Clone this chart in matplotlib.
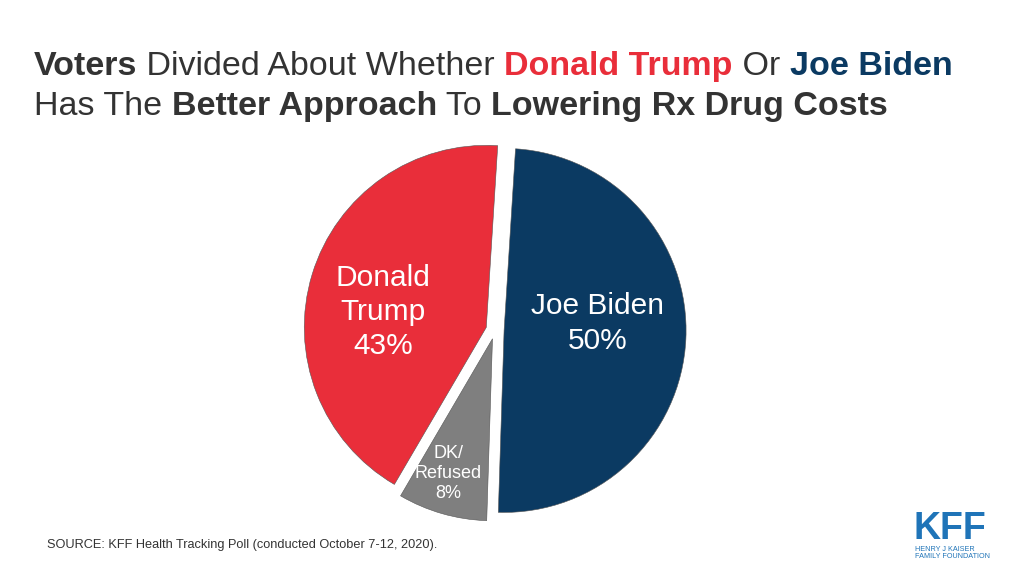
import matplotlib
matplotlib.use("Agg")
import matplotlib.pyplot as plt
from matplotlib import font_manager

plt.rcParams['font.family'] = ['Liberation Sans', 'DejaVu Sans']

# data
labels = ["Joe Biden", "DK/\nRefused", "Donald\nTrump"]
values = [50, 8, 43]
colors = ["#0b3a62", "#7f7f7f", "#e92e3a"]

title_line1 = [("Voters", "bold", "#333333"), (" Divided About Whether ", "normal", "#333333"),
               ("Donald Trump", "bold", "#e92e3a"), (" Or ", "normal", "#333333"),
               ("Joe Biden", "bold", "#0b3a62")]
title_line2 = [("Has The ", "normal", "#333333"), ("Better Approach", "bold", "#333333"),
               (" To ", "normal", "#333333"), ("Lowering Rx Drug Costs", "bold", "#333333")]
source = "SOURCE: KFF Health Tracking Poll (conducted October 7-12, 2020)."

W, H = 1024, 576
fig = plt.figure(figsize=(W / 100, H / 100), dpi=100)
fig.patch.set_facecolor("white")


def draw_runs(runs, x, y, size):
    renderer = fig.canvas.get_renderer()
    for txt, weight, col in runs:
        t = fig.text(x / W, 1 - y / H, txt, fontsize=size, fontweight=weight,
                     color=col, va="baseline", ha="left")
        bb = t.get_window_extent(renderer=renderer)
        x += bb.width


draw_runs(title_line1, 34, 75, 24.5)
draw_runs(title_line2, 34, 115, 24.5)

# pie
cx, cy, r = 495, 330, 182
ax = fig.add_axes([(cx - r) / W, 1 - (cy + r) / H, 2 * r / W, 2 * r / H])
wedges, _ = ax.pie(values, colors=colors, startangle=86.4, counterclock=False,
                   explode=[0.05, 0.05, 0.05],
                   wedgeprops=dict(edgecolor="#555555", linewidth=0.4))
for w in wedges:
    w.set_clip_on(False)
ax.set_xlim(-1, 1)
ax.set_ylim(-1, 1)
ax.set_aspect("equal")
ax.axis("off")

pct = [f"{v}%" for v in values]
ax.text(0.565, 0.035, labels[0] + "\n" + pct[0], color="white", fontsize=21.5,
        ha="center", va="center", linespacing=1.34)
ax.text(-0.615, 0.10, labels[2] + "\n" + pct[2], color="white", fontsize=21.5,
        ha="center", va="center", linespacing=1.26)
ax.text(-0.258, -0.79, labels[1] + "\n" + pct[1], color="white", fontsize=13,
        ha="center", va="center", linespacing=1.23)

fig.text(47 / W, 1 - 545 / H, source, fontsize=9.2, color="#333333",
         ha="left", va="center")

# logo
narrow = [f.name for f in font_manager.fontManager.ttflist if f.name == "Liberation Sans Narrow"]
logo_family = ["Liberation Sans Narrow", "Liberation Sans"] if narrow else ["Liberation Sans"]
fig.text(913 / W, 1 - 539 / H, "KFF", fontsize=27, fontweight="bold", family=logo_family,
         color="#1f74b8", ha="left", va="baseline")
fig.text(915 / W, 1 - 553 / H, "HENRY J KAISER\nFAMILY FOUNDATION", fontsize=5.2,
         color="#1f74b8", ha="left", va="center", linespacing=1.1)

fig.savefig("out.png", dpi=100, facecolor="white")
